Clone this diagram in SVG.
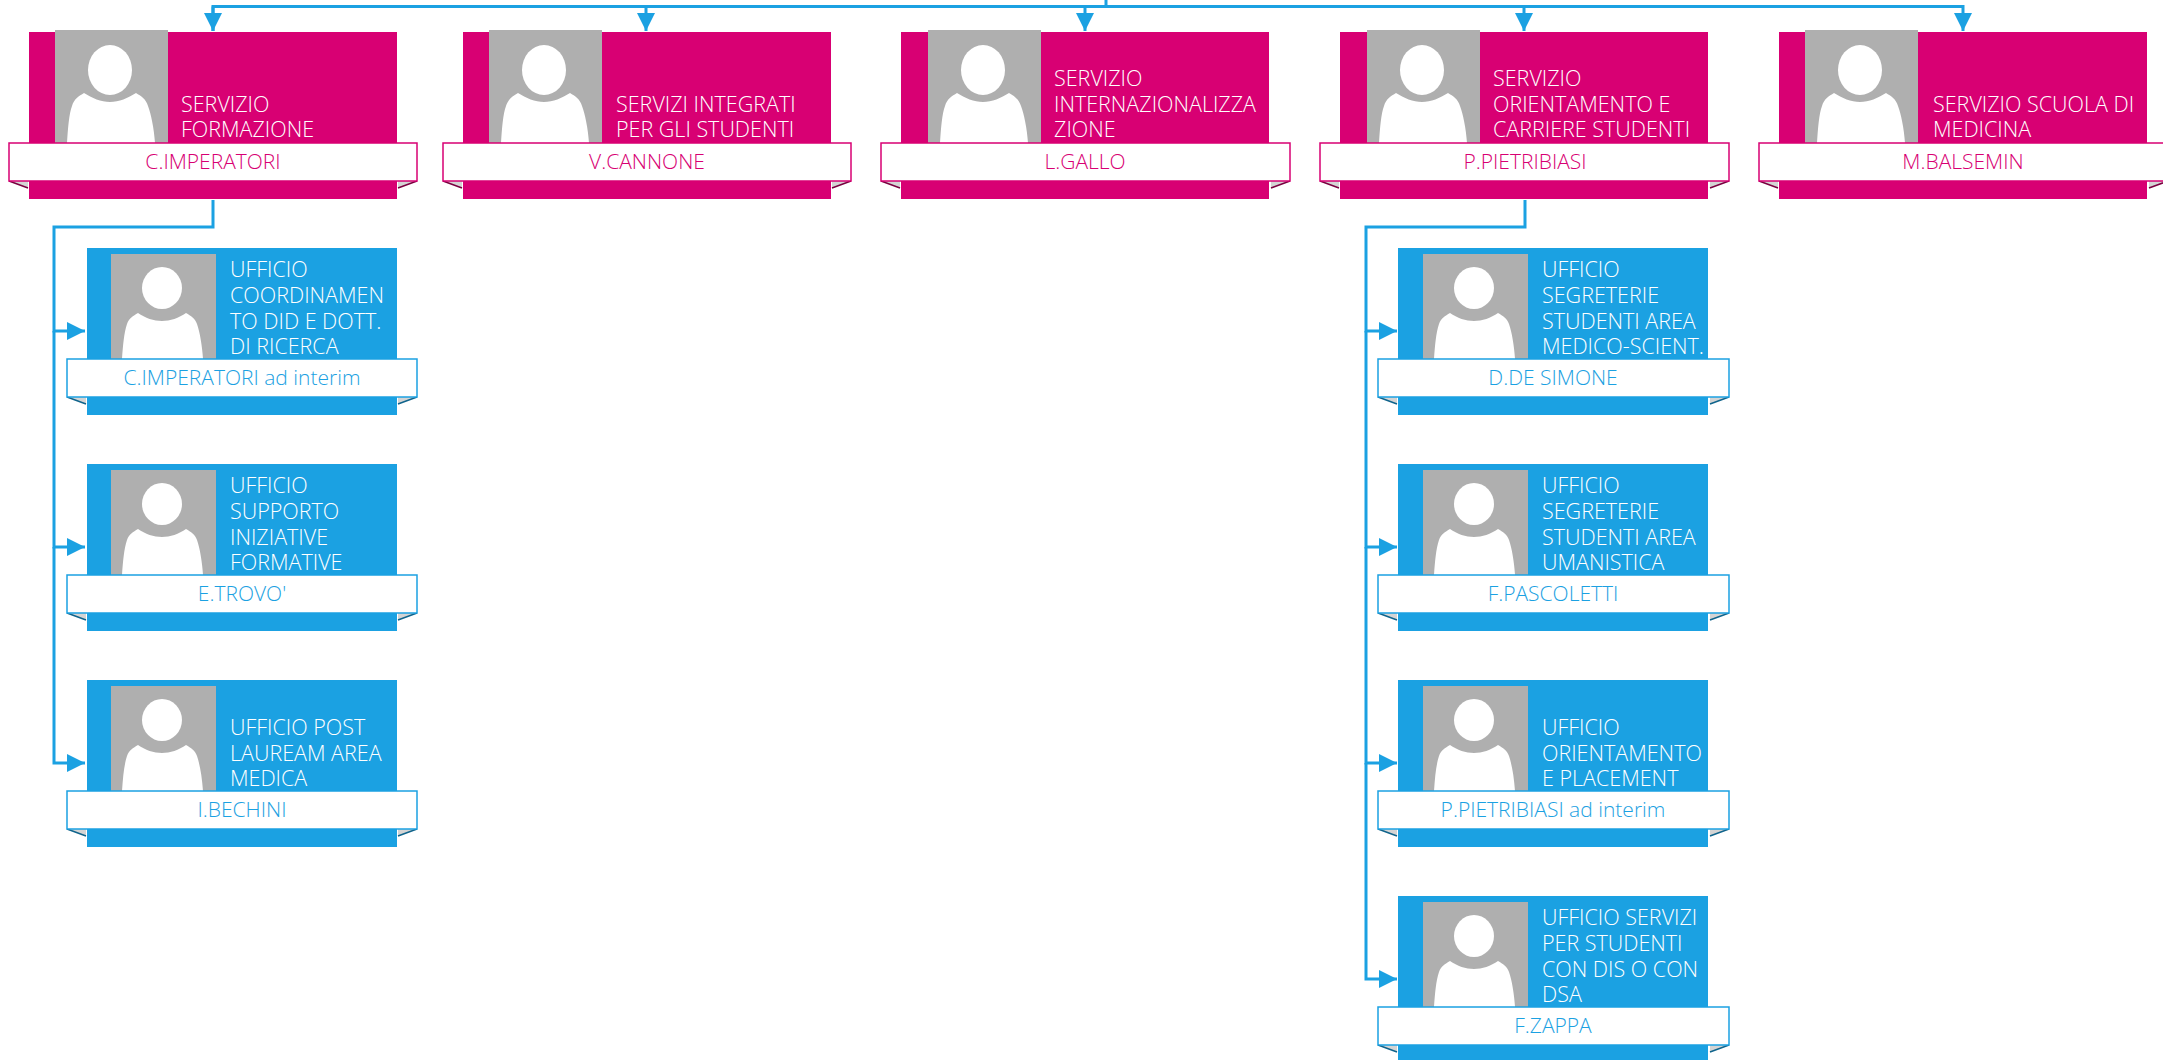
<svg xmlns="http://www.w3.org/2000/svg" width="2163" height="1060" viewBox="0 0 2163 1060">
<style>
text{font-family:"Open Sans","Noto Sans","Liberation Sans",sans-serif;font-size:21.5px;font-weight:300}
.t{fill:#fff;transform:translateY(1px)}.n{text-anchor:middle;font-size:21px}
.m .c{fill:#D80073}.m .n{fill:#D80073}.m .b{fill:#fff;stroke:#D80073;stroke-width:1.5}.m .d{stroke:#7a0040}
.u .c{fill:#1BA1E2}.u .n{fill:#1BA1E2}.u .b{fill:#fff;stroke:#1BA1E2;stroke-width:1.5}.u .d{stroke:#10648c}
.g{fill:#AFAFAF}.w{fill:#fff}.f{fill:#d4d4d4}.d{fill:none;stroke-width:1.5}
#connectors path{fill:none;stroke:#1BA1E2;stroke-width:3}
</style>
<defs>
<marker id="a" markerUnits="userSpaceOnUse" markerWidth="20" markerHeight="20" refX="18" refY="9.5" orient="auto"><path d="M0,0.5L18,9.5L0,18.5Z" fill="#1BA1E2"/></marker>
<g id="pm"><rect class="g" width="113" height="113"/><ellipse class="w" cx="55" cy="40" rx="22" ry="25"/><path class="w" d="M12,113C13,98 14,84 17,76C19,69 24,66 29,63C37,68 46,72 55,72C64,72 73,68 81,63C86,66 91,69 93,76C96,84 99,98 100,113Z"/></g>
<g id="pu"><rect class="g" width="105" height="105"/><ellipse class="w" cx="51" cy="34" rx="20" ry="21"/><path class="w" d="M11,105C12,91 13,79 16,70C18,64 22,62 27,59C34,64 43,67 51,67C59,67 68,64 75,59C80,62 84,64 86,70C89,79 91,91 92,105Z"/></g>
</defs>
<g id="connectors">
<path d="M1106,0V6.500"/>
<path d="M213,31V6.500H1963V31" marker-end="url(#a)"/>
<path d="M213,6.500V31" marker-end="url(#a)"/>
<path d="M646,6.500V31" marker-end="url(#a)"/>
<path d="M1085,6.500V31" marker-end="url(#a)"/>
<path d="M1524,6.500V31" marker-end="url(#a)"/>
<path d="M213,200V227H54V331H85" marker-end="url(#a)"/>
<path d="M54,331V547H85" marker-end="url(#a)"/>
<path d="M54,547V763H85" marker-end="url(#a)"/>
<path d="M1525,200V227H1366V331H1397" marker-end="url(#a)"/>
<path d="M1366,331V547H1397" marker-end="url(#a)"/>
<path d="M1366,547V763H1397" marker-end="url(#a)"/>
<path d="M1366,763V979H1397" marker-end="url(#a)"/>
</g>
<g id="s1" class="m"><rect class="c" x="29" y="32" width="368" height="167"/><use href="#pm" x="55" y="30"/>
<text class="t" x="181" y="111">SERVIZIO</text><text class="t" x="181" y="136">FORMAZIONE</text>
<path class="f" d="M9,181L28,188V181Z"/><path class="f" d="M417,181L398,188V181Z"/><path class="d" d="M9,181L28,188M417,181L398,188"/>
<rect class="b" x="9" y="143" width="408" height="38"/><text class="n" x="213" y="169">C.IMPERATORI</text></g>
<g id="s2" class="m"><rect class="c" x="463" y="32" width="368" height="167"/><use href="#pm" x="489" y="30"/>
<text class="t" x="616" y="111">SERVIZI INTEGRATI</text><text class="t" x="616" y="136">PER GLI STUDENTI</text>
<path class="f" d="M443,181L462,188V181Z"/><path class="f" d="M851,181L832,188V181Z"/><path class="d" d="M443,181L462,188M851,181L832,188"/>
<rect class="b" x="443" y="143" width="408" height="38"/><text class="n" x="647" y="169">V.CANNONE</text></g>
<g id="s3" class="m"><rect class="c" x="901" y="32" width="368" height="167"/><use href="#pm" x="928" y="30"/>
<text class="t" x="1054" y="85">SERVIZIO</text><text class="t" x="1054" y="111">INTERNAZIONALIZZA</text><text class="t" x="1054" y="136">ZIONE</text>
<path class="f" d="M881,181L900,188V181Z"/><path class="f" d="M1290,181L1271,188V181Z"/><path class="d" d="M881,181L900,188M1290,181L1271,188"/>
<rect class="b" x="881" y="143" width="409" height="38"/><text class="n" x="1085" y="169">L.GALLO</text></g>
<g id="s4" class="m"><rect class="c" x="1340" y="32" width="368" height="167"/><use href="#pm" x="1367" y="30"/>
<text class="t" x="1493" y="85">SERVIZIO</text><text class="t" x="1493" y="111">ORIENTAMENTO E</text><text class="t" x="1493" y="136">CARRIERE STUDENTI</text>
<path class="f" d="M1320,181L1339,188V181Z"/><path class="f" d="M1729,181L1710,188V181Z"/><path class="d" d="M1320,181L1339,188M1729,181L1710,188"/>
<rect class="b" x="1320" y="143" width="409" height="38"/><text class="n" x="1525" y="169">P.PIETRIBIASI</text></g>
<g id="s5" class="m"><rect class="c" x="1779" y="32" width="368" height="167"/><use href="#pm" x="1805" y="30"/>
<text class="t" x="1933" y="111">SERVIZIO SCUOLA DI</text><text class="t" x="1933" y="136">MEDICINA</text>
<path class="f" d="M1759,181L1778,188V181Z"/><path class="f" d="M2168,181L2149,188V181Z"/><path class="d" d="M1759,181L1778,188M2168,181L2149,188"/>
<rect class="b" x="1759" y="143" width="409" height="38"/><text class="n" x="1963" y="169">M.BALSEMIN</text></g>
<g id="u1" class="u"><rect class="c" x="87" y="248" width="310" height="167"/><use href="#pu" x="111" y="254"/>
<text class="t" x="230" y="276">UFFICIO</text><text class="t" x="230" y="302">COORDINAMEN</text><text class="t" x="230" y="328">TO DID E DOTT.</text><text class="t" x="230" y="353">DI RICERCA</text>
<path class="f" d="M67,397L86,404V397Z"/><path class="f" d="M417,397L398,404V397Z"/><path class="d" d="M67,397L86,404M417,397L398,404"/>
<rect class="b" x="67" y="359" width="350" height="38"/><text class="n" x="242" y="385">C.IMPERATORI ad interim</text></g>
<g id="u2" class="u"><rect class="c" x="87" y="464" width="310" height="167"/><use href="#pu" x="111" y="470"/>
<text class="t" x="230" y="492">UFFICIO</text><text class="t" x="230" y="518">SUPPORTO</text><text class="t" x="230" y="544">INIZIATIVE</text><text class="t" x="230" y="569">FORMATIVE</text>
<path class="f" d="M67,613L86,620V613Z"/><path class="f" d="M417,613L398,620V613Z"/><path class="d" d="M67,613L86,620M417,613L398,620"/>
<rect class="b" x="67" y="575" width="350" height="38"/><text class="n" x="242" y="601">E.TROVO'</text></g>
<g id="u3" class="u"><rect class="c" x="87" y="680" width="310" height="167"/><use href="#pu" x="111" y="686"/>
<text class="t" x="230" y="734">UFFICIO POST</text><text class="t" x="230" y="760">LAUREAM AREA</text><text class="t" x="230" y="785">MEDICA</text>
<path class="f" d="M67,829L86,836V829Z"/><path class="f" d="M417,829L398,836V829Z"/><path class="d" d="M67,829L86,836M417,829L398,836"/>
<rect class="b" x="67" y="791" width="350" height="38"/><text class="n" x="242" y="817">I.BECHINI</text></g>
<g id="u4" class="u"><rect class="c" x="1398" y="248" width="310" height="167"/><use href="#pu" x="1423" y="254"/>
<text class="t" x="1542" y="276">UFFICIO</text><text class="t" x="1542" y="302">SEGRETERIE</text><text class="t" x="1542" y="328">STUDENTI AREA</text><text class="t" x="1542" y="353">MEDICO-SCIENT.</text>
<path class="f" d="M1378,397L1397,404V397Z"/><path class="f" d="M1729,397L1710,404V397Z"/><path class="d" d="M1378,397L1397,404M1729,397L1710,404"/>
<rect class="b" x="1378" y="359" width="351" height="38"/><text class="n" x="1553" y="385">D.DE SIMONE</text></g>
<g id="u5" class="u"><rect class="c" x="1398" y="464" width="310" height="167"/><use href="#pu" x="1423" y="470"/>
<text class="t" x="1542" y="492">UFFICIO</text><text class="t" x="1542" y="518">SEGRETERIE</text><text class="t" x="1542" y="544">STUDENTI AREA</text><text class="t" x="1542" y="569">UMANISTICA</text>
<path class="f" d="M1378,613L1397,620V613Z"/><path class="f" d="M1729,613L1710,620V613Z"/><path class="d" d="M1378,613L1397,620M1729,613L1710,620"/>
<rect class="b" x="1378" y="575" width="351" height="38"/><text class="n" x="1553" y="601">F.PASCOLETTI</text></g>
<g id="u6" class="u"><rect class="c" x="1398" y="680" width="310" height="167"/><use href="#pu" x="1423" y="686"/>
<text class="t" x="1542" y="734">UFFICIO</text><text class="t" x="1542" y="760">ORIENTAMENTO</text><text class="t" x="1542" y="785">E PLACEMENT</text>
<path class="f" d="M1378,829L1397,836V829Z"/><path class="f" d="M1729,829L1710,836V829Z"/><path class="d" d="M1378,829L1397,836M1729,829L1710,836"/>
<rect class="b" x="1378" y="791" width="351" height="38"/><text class="n" x="1553" y="817">P.PIETRIBIASI ad interim</text></g>
<g id="u7" class="u"><rect class="c" x="1398" y="896" width="310" height="164"/><use href="#pu" x="1423" y="902"/>
<text class="t" x="1542" y="924">UFFICIO SERVIZI</text><text class="t" x="1542" y="950">PER STUDENTI</text><text class="t" x="1542" y="976">CON DIS O CON</text><text class="t" x="1542" y="1001">DSA</text>
<path class="f" d="M1378,1045L1397,1052V1045Z"/><path class="f" d="M1729,1045L1710,1052V1045Z"/><path class="d" d="M1378,1045L1397,1052M1729,1045L1710,1052"/>
<rect class="b" x="1378" y="1007" width="351" height="38"/><text class="n" x="1553" y="1033">F.ZAPPA</text></g>
</svg>
